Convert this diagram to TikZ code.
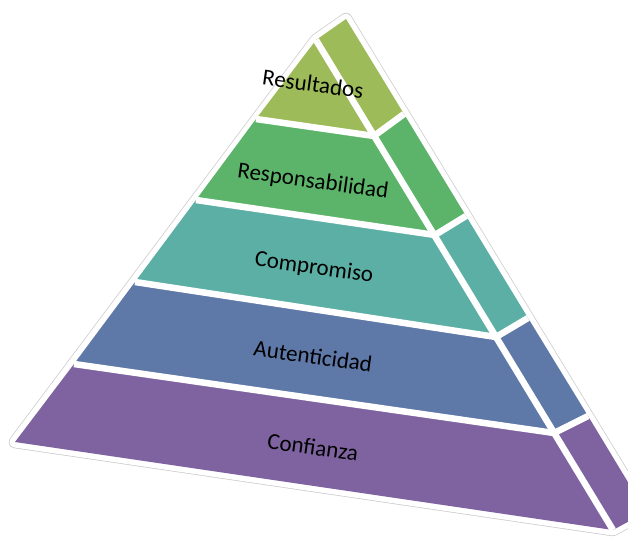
\documentclass[tikz,border=0pt]{standalone}
\usepackage{fontspec}
\setmainfont{Carlito}
\usepackage{xcolor}
\usepackage{tikz}

\definecolor{resultados}{HTML}{9DBB59}
\definecolor{responsab}{HTML}{5CB46A}
\definecolor{compromiso}{HTML}{5BAFA5}
\definecolor{autentic}{HTML}{5E78A8}
\definecolor{confianza}{HTML}{7F63A0}

\begin{document}
\begin{tikzpicture}[x=1pt, y=-1pt,
  gap/.style={draw=white, line width=6.5pt, line join=round},
  lbl/.style={font=\fontsize{23}{27}\selectfont, text=black, rotate=-8}]
\useasboundingbox (0,0) rectangle (628,541);
\clip (0,0) rectangle (628,541);

% apex and top of the side face
\coordinate (F0) at (316,40);
\coordinate (S0) at (346,19);
% left edge
\coordinate (L1) at (256,119);
\coordinate (L2) at (196,200);
\coordinate (L3) at (135,282);
\coordinate (L4) at (74,364);
\coordinate (L5) at (15,442);
% ridge between front and side
\coordinate (R1) at (374,136);
\coordinate (R2) at (435,235);
\coordinate (R3) at (496,337);
\coordinate (R4) at (554,433);
\coordinate (R5) at (613,530);
% outer edge of the side
\coordinate (O1) at (404,114);
\coordinate (O2) at (466,216);
\coordinate (O3) at (528,318);
\coordinate (O4) at (588,416);
\coordinate (O5) at (646,512);

% thin outline round the whole pyramid
\draw [gray!40, line width=12.5pt, line join=round] (L5) -- (F0) -- (S0) -- (O5) -- (R5) -- cycle;
\draw [white, fill=white, line width=11pt, line join=round] (L5) -- (F0) -- (S0) -- (O5) -- (R5) -- cycle;

% front faces
\fill [resultados] (F0) -- (L1) -- (R1) -- cycle;
\fill [responsab] (L1) -- (L2) -- (R2) -- (R1) -- cycle;
\fill [compromiso] (L2) -- (L3) -- (R3) -- (R2) -- cycle;
\fill [autentic] (L3) -- (L4) -- (R4) -- (R3) -- cycle;
\fill [confianza] (L4) -- (L5) -- (R5) -- (R4) -- cycle;

% side faces
\fill [resultados] (F0) -- (S0) -- (O1) -- (R1) -- cycle;
\fill [responsab] (R1) -- (O1) -- (O2) -- (R2) -- cycle;
\fill [compromiso] (R2) -- (O2) -- (O3) -- (R3) -- cycle;
\fill [autentic] (R3) -- (O3) -- (O4) -- (R4) -- cycle;
\fill [confianza] (R4) -- (O4) -- (O5) -- (R5) -- cycle;

% white gaps
\draw [gap] (F0) -- (R5);
\draw [gap] (L1) -- (R1) -- (O1);
\draw [gap] (L2) -- (R2) -- (O2);
\draw [gap] (L3) -- (R3) -- (O3);
\draw [gap] (L4) -- (R4) -- (O4);

% labels
\node [lbl] (resultadosL) at (313,84) {Resultados};
\node [lbl] (responsabL) at (313,182) {Responsabilidad};
\node [lbl] (compromisoL) at (314,268) {Compromiso};
\node [lbl] (autenticL) at (313,356) {Autenticidad};
\node [lbl] (confianzaL) at (313,447) {Confianza};
\end{tikzpicture}
\end{document}
